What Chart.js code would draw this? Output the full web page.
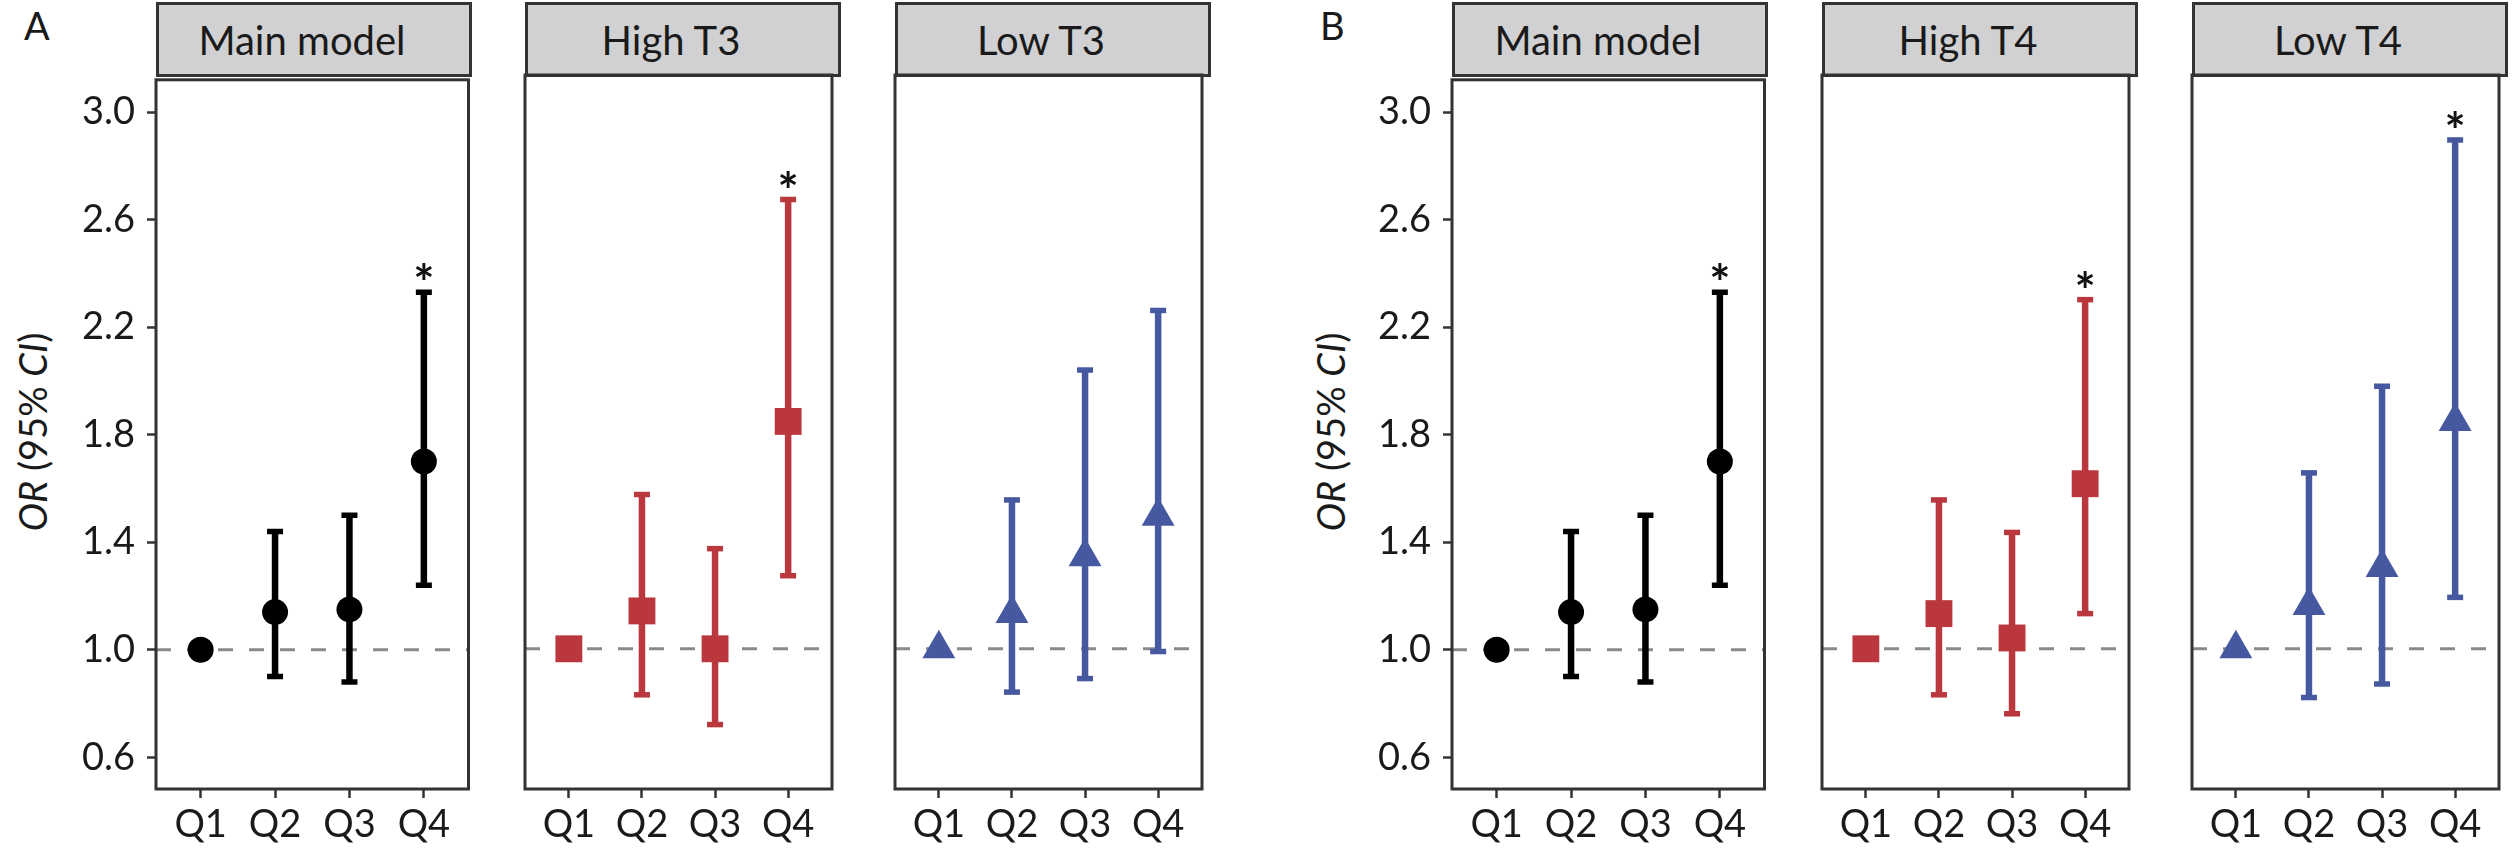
<!DOCTYPE html>
<html>
<head>
<meta charset="utf-8">
<script src="https://cdn.jsdelivr.net/npm/chart.js@4.4.1/dist/chart.umd.min.js"></script>
<style>
body { margin:0; width:2520px; height:853px; background:#fff; position:relative; overflow:hidden; font-family:Lato, sans-serif; }
.strip { position:absolute; top:2px; height:75px; box-sizing:border-box; border:3px solid #333; background:#d1d1d3;
  font-size:40px; color:#1a1a1a; display:flex; align-items:center; justify-content:center; padding-right:24px; }
.tag { position:absolute; top:2px; font-size:38px; color:#1a1a1a; }
.ytitle { position:absolute; top:432px; font-size:38px; color:#1a1a1a; white-space:nowrap;
  transform:translate(-50%,-50%) rotate(-90deg); }
canvas { position:absolute; }
</style>
</head>
<body>
<div class="tag" style="left:24px">A</div>
<div class="tag" style="left:1320px">B</div>
<div class="ytitle" style="left:32px"><i>OR</i> (95% <i>CI</i>)</div>
<div class="ytitle" style="left:1330px"><i>OR</i> (95% <i>CI</i>)</div>

<script>
// data
const quartiles = ["Q1", "Q2", "Q3", "Q4"];
const yTicks = [0.6, 1.0, 1.4, 1.8, 2.2, 2.6, 3.0];
const panelTitles = ["Main model", "High T3", "Low T3", "Main model", "High T4", "Low T4"];

const mainOR   = [1.00, 1.14, 1.15, 1.70];
const mainLow  = [null, 0.90, 0.88, 1.24];
const mainHigh = [null, 1.44, 1.50, 2.33];
const mainSig  = [false, false, false, true];

const highT3OR   = [1.00, 1.14, 1.00, 1.84];
const highT3Low  = [null, 0.83, 0.72, 1.27];
const highT3High = [null, 1.57, 1.37, 2.66];
const highT3Sig  = [false, false, false, true];

const lowT3OR   = [1.00, 1.13, 1.34, 1.49];
const lowT3Low  = [null, 0.84, 0.89, 0.99];
const lowT3High = [null, 1.55, 2.03, 2.25];
const lowT3Sig  = [false, false, false, false];

const highT4OR   = [1.00, 1.13, 1.04, 1.61];
const highT4Low  = [null, 0.83, 0.76, 1.13];
const highT4High = [null, 1.55, 1.43, 2.29];
const highT4Sig  = [false, false, false, true];

const lowT4OR   = [1.00, 1.16, 1.30, 1.84];
const lowT4Low  = [null, 0.82, 0.87, 1.19];
const lowT4High = [null, 1.65, 1.97, 2.88];
const lowT4Sig  = [false, false, false, true];

// layout
const plotLefts = [156, 525, 895, 1452, 1822, 2192];
const plotW = 316;
const axisW = 110, padTop = 30, padRight = 10;
const canvasTop = 45, canvasH = 808, xAxisH = 64;
const xMin = 0.4, xMax = 4.6;

const black = "#000000", red = "#B9373D", blue = "#4659A0";

// frame + significance stars
const boxPlugin = {
  id: "box",
  afterDraw(chart, args, opts) {
    const { ctx, chartArea: a } = chart;
    const xs = chart.scales.x, ys = chart.scales.y;
    ctx.save();
    ctx.strokeStyle = "#333";
    ctx.lineWidth = 3;
    ctx.strokeRect(a.left, a.top, a.right - a.left, a.bottom - a.top);
    ctx.fillStyle = "#111";
    ctx.font = "bold 50px Lato";
    ctx.textAlign = "center";
    ctx.textBaseline = "alphabetic";
    const m = ctx.measureText("*");
    opts.sig.forEach((s, i) => {
      if (!s) return;
      const px = xs.getPixelForValue(i + 1);
      const py = ys.getPixelForValue(opts.hi[i]);
      ctx.fillText("*", px, py - 12 - m.actualBoundingBoxDescent);
    });
    ctx.restore();
  }
};

function makePanel(idx, or, lo, hi, sig, color, shape, radius) {
  const showY = idx === 0 || idx === 3;
  const left = plotLefts[idx];

  const strip = document.createElement("div");
  strip.className = "strip";
  strip.style.left = left + "px";
  strip.style.width = plotW + "px";
  strip.textContent = panelTitles[idx];
  document.body.appendChild(strip);

  const cv = document.createElement("canvas");
  const cw = axisW + plotW + padRight;
  cv.width = cw; cv.height = canvasH;
  cv.style.left = (left - axisW) + "px";
  cv.style.top = canvasTop + "px";
  cv.style.width = cw + "px";
  cv.style.height = canvasH + "px";
  document.body.appendChild(cv);

  const pts = or.map((v, i) => ({ x: i + 1, y: v }));
  const capsHi = hi.map((v, i) => ({ x: i + 1, y: v }));
  const capsLo = lo.map((v, i) => ({ x: i + 1, y: v }));
  const bars = [];
  lo.forEach((v, i) => {
    if (v === null) return;
    bars.push({ x: i + 1, y: v }, { x: i + 1, y: hi[i] }, { x: i + 1, y: null });
  });

  new Chart(cv, {
    type: "scatter",
    data: {
      datasets: [
        { data: pts, pointStyle: shape, pointRadius: radius, backgroundColor: color, borderColor: color, borderWidth: 0 },
        { data: capsHi, pointStyle: "line", pointRadius: 8, borderColor: color, borderWidth: 5.5 },
        { data: capsLo, pointStyle: "line", pointRadius: 8, borderColor: color, borderWidth: 5.5 },
        { data: bars, showLine: true, spanGaps: false, pointRadius: 0, borderColor: color, borderWidth: 6.5 },
        { data: [{ x: xMin, y: 1 }, { x: xMax, y: 1 }], showLine: true, pointRadius: 0,
          borderColor: "#8a8a8a", borderWidth: 3, borderDash: [15, 16] }
      ]
    },
    options: {
      responsive: false,
      animation: false,
      events: [],
      layout: { padding: { top: padTop, right: padRight, left: 0, bottom: 0 } },
      plugins: { legend: { display: false }, tooltip: { enabled: false }, box: { sig: sig, hi: hi } },
      scales: {
        x: {
          type: "linear", min: xMin, max: xMax,
          afterBuildTicks: s => { s.ticks = quartiles.map((q, i) => ({ value: i + 1 })); },
          afterFit: s => { s.height = xAxisH; },
          ticks: { callback: v => quartiles[Math.round(v) - 1], font: { family: "Lato", size: 38 },
                   color: "#1a1a1a", padding: 4, maxRotation: 0, autoSkip: false },
          grid: { drawOnChartArea: false, drawTicks: true, tickLength: 9, tickWidth: 2.5, tickColor: "#333" },
          border: { display: false }
        },
        y: {
          type: "linear", min: 0.482, max: 3.12,
          afterBuildTicks: s => { s.ticks = yTicks.map(v => ({ value: v })); },
          afterFit: s => { s.width = axisW; },
          ticks: { display: showY, callback: v => v.toFixed(1), font: { family: "Lato", size: 38 },
                   color: "#1a1a1a", padding: 12 },
          grid: { drawOnChartArea: false, drawTicks: showY, tickLength: 9, tickWidth: 2.5, tickColor: "#333" },
          border: { display: false }
        }
      }
    },
    plugins: [boxPlugin]
  });
}

makePanel(0, mainOR, mainLow, mainHigh, mainSig, black, "circle", 13);
makePanel(1, highT3OR, highT3Low, highT3High, highT3Sig, red, "rect", 19);
makePanel(2, lowT3OR, lowT3Low, lowT3High, lowT3Sig, blue, "triangle", 19);
makePanel(3, mainOR, mainLow, mainHigh, mainSig, black, "circle", 13);
makePanel(4, highT4OR, highT4Low, highT4High, highT4Sig, red, "rect", 19);
makePanel(5, lowT4OR, lowT4Low, lowT4High, lowT4Sig, blue, "triangle", 19);
</script>
</body>
</html>
